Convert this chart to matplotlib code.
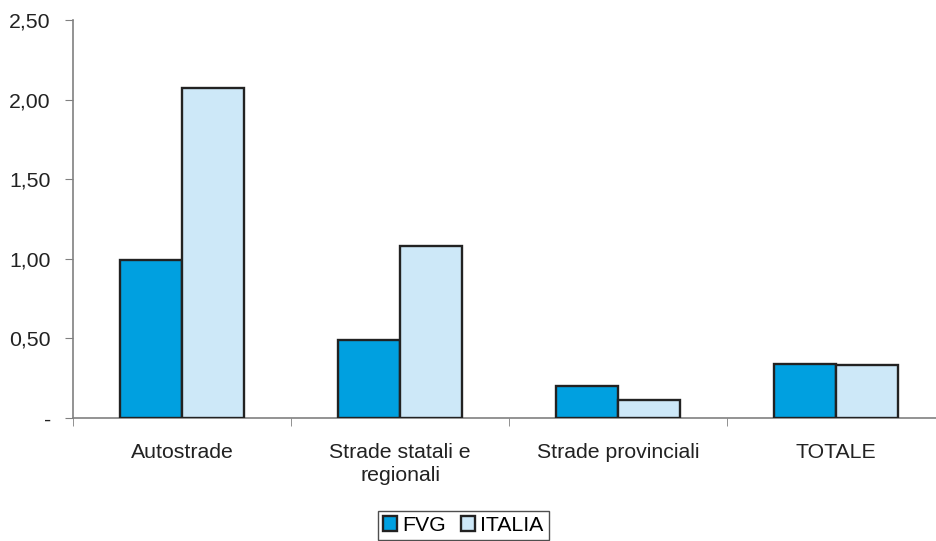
import numpy as np
import matplotlib
matplotlib.use("Agg")
from matplotlib import pyplot as plt
from matplotlib.ticker import FixedLocator

plt.rcParams['font.family'] = ['Liberation Sans', 'DejaVu Sans']

categories = ["Autostrade", "Strade statali e\nregionali", "Strade provinciali", "TOTALE"]
fvg = [0.99, 0.49, 0.20, 0.34]
italia = [2.075, 1.08, 0.11, 0.33]
ytick_vals = [0, 0.5, 1.0, 1.5, 2.0, 2.5]
ytick_labels = ["-", "0,50", "1,00", "1,50", "2,00", "2,50"]

fs = 15.3

fig = plt.figure(figsize=(9.36, 5.41), dpi=100)
ax = fig.add_axes([73/936, 123/541, 872/936, 398/541])

x = np.arange(len(categories))
w = 0.285
ax.bar(x - w/2, fvg, w, color='#00a0e0', edgecolor='#222222', linewidth=1.7, label='FVG', zorder=3)
ax.bar(x + w/2, italia, w, color='#cde8f8', edgecolor='#222222', linewidth=1.7, label='ITALIA', zorder=3)

ax.set_xlim(-0.5, len(categories) - 0.5)
ax.set_ylim(0, 2.5)
ax.set_yticks(ytick_vals)
ax.set_yticklabels(ytick_labels, fontsize=fs, color='#222222')
ax.set_xticks(x)
ax.set_xticklabels(categories, fontsize=fs, color='#222222', linespacing=1.25)
ax.xaxis.set_minor_locator(FixedLocator(np.arange(-0.5, len(categories), 1.0)))
ax.tick_params(axis='x', which='major', length=0, pad=18)
ax.tick_params(axis='x', which='minor', length=6, color='#808080', direction='out')
ax.tick_params(axis='y', length=6, color='#808080', pad=10)

for s in ['top', 'right']:
  ax.spines[s].set_visible(False)
for s in ['left', 'bottom']:
  ax.spines[s].set_color('#808080')
  ax.spines[s].set_linewidth(1.2)

leg = fig.legend(loc='upper center', bbox_to_anchor=(0.495, 0.056), ncol=2,
  fontsize=fs, frameon=True, fancybox=False, handlelength=0.65, handleheight=0.65,
  handletextpad=0.25, columnspacing=0.7, borderpad=0.25, borderaxespad=0)
leg.get_frame().set_edgecolor('#222222')
leg.get_frame().set_linewidth(1.0)

plt.savefig('out.png', dpi=100)
